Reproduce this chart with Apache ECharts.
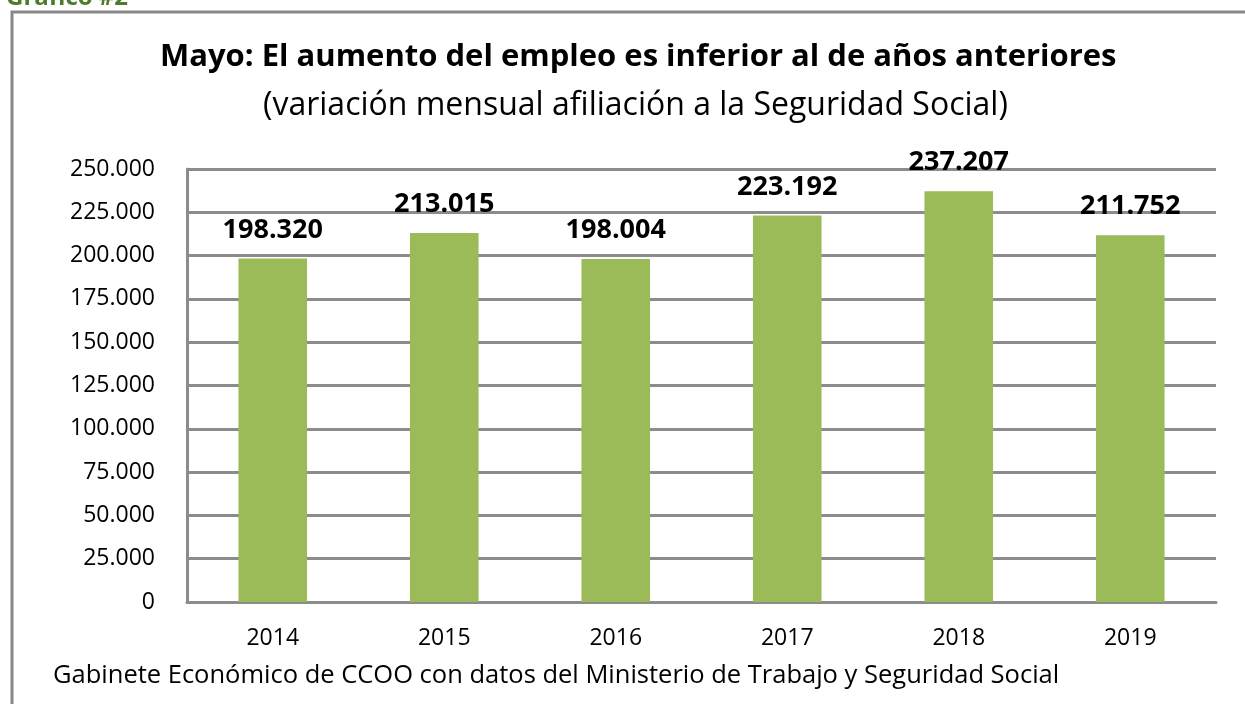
<!DOCTYPE html>
<html>
<head>
<meta charset="utf-8">
<script src="https://cdn.jsdelivr.net/npm/echarts@6/dist/echarts.min.js"></script>
<style>
  html, body { margin: 0; padding: 0; background: #fff; }
  #chart { width: 1245px; height: 704px; }
</style>
</head>
<body>
<div id="chart"></div>
<script>
var years = ['2014', '2015', '2016', '2017', '2018', '2019'];
var altas = [198320, 213015, 198004, 223192, 237207, 211752];

// separador de miles con punto
function miles(v) {
    return String(v).replace(/\B(?=(\d{3})+(?!\d))/g, '.');
}

var myChart = echarts.init(document.getElementById('chart'));
var option = {
    backgroundColor: '#fff',
    textStyle: { fontFamily: 'Open Sans' },
    title: [
        {
            text: 'Mayo: El aumento del empleo es inferior al de años anteriores',
            left: 155,
            top: 37,
            textStyle: { fontFamily: 'Open Sans', fontSize: 31, fontWeight: 'bold', color: '#000' }
        },
        {
            text: '(variación mensual afiliación a la Seguridad Social)',
            left: 258,
            top: 85,
            textStyle: { fontFamily: 'Open Sans', fontSize: 32, fontWeight: 'normal', color: '#000' }
        }
    ],
    graphic: [
        {
            type: 'rect',
            shape: { x: 12, y: 12, width: 1260, height: 720 },
            style: { fill: 'none', stroke: '#888', lineWidth: 3 }
        },
        {
            type: 'text',
            left: 6,
            top: -14,
            style: { text: 'Gráfico #2', font: 'bold 24px "Open Sans"', fill: '#4f7a28' }
        },
        {
            type: 'text',
            left: 53,
            top: 663,
            style: {
                text: 'Gabinete Económico de CCOO con datos del Ministerio de Trabajo y Seguridad Social',
                font: '25.5px "Open Sans"',
                fill: '#000'
            }
        }
    ],
    grid: { left: 187, right: 29, top: 169, bottom: 102 },
    xAxis: {
        type: 'category',
        data: years,
        axisLine: { lineStyle: { color: '#8c8c8c', width: 3 } },
        axisTick: { show: false },
        axisLabel: { color: '#000', fontSize: 23, margin: 25 }
    },
    yAxis: {
        type: 'value',
        min: 0,
        max: 250000,
        interval: 25000,
        axisLine: { show: true, lineStyle: { color: '#8c8c8c', width: 3 } },
        axisTick: { show: false },
        splitLine: { lineStyle: { color: '#8c8c8c', width: 3 } },
        axisLabel: { color: '#000', fontSize: 23, margin: 32, formatter: miles }
    },
    series: [
        {
            type: 'bar',
            data: altas,
            barWidth: '40%',
            itemStyle: { color: '#9bbb59' },
            label: {
                show: true,
                position: 'top',
                distance: 15,
                fontSize: 27,
                fontWeight: 'bold',
                color: '#000',
                formatter: function (p) { return miles(p.value); }
            }
        }
    ]
};
myChart.setOption(option);
</script>
</body>
</html>
